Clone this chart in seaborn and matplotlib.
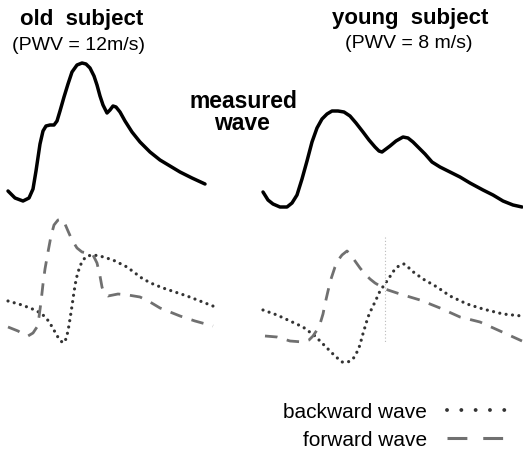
import matplotlib
matplotlib.use("Agg")
import matplotlib.pyplot as plt
from matplotlib.lines import Line2D
import seaborn as sns

# values (time in px units, amplitude = height above the bottom edge)
H = 452

old_meas_t = [8, 15, 23, 29, 33, 36, 40, 43, 46, 50, 54, 57, 60, 64, 68, 72, 77, 82, 86, 90,
              94, 97, 100, 103, 107, 110, 113, 116, 120, 125, 132, 140, 150, 160, 170, 180, 192, 205]
old_meas_p = [192, 199, 202, 199, 190, 172, 145, 132, 127, 126, 126, 122, 112, 98, 85, 73, 66, 64, 65, 69,
              77, 86, 97, 106, 114, 111, 107, 108, 113, 122, 133, 143, 153, 161, 167, 173, 179, 185]

young_meas_t = [263, 268, 273, 280, 287, 292, 297, 302, 307, 312, 317, 322, 327, 332, 338, 344, 350, 356,
                363, 369, 375, 379, 382, 386, 390, 396, 403, 408, 413, 418, 425, 432, 440, 450, 460, 470,
                483, 493, 503, 513, 522]
young_meas_p = [193, 201, 205, 208, 208, 204, 196, 180, 162, 143, 129, 120, 115, 112, 112, 113, 117, 124,
                133, 141, 148, 152, 153, 150, 147, 142, 138, 139, 143, 148, 155, 163, 168, 173, 178, 184,
                191, 196, 202, 206, 208]

old_back_t = [8, 22, 35, 42, 47, 51, 55, 59, 63, 66, 68, 70, 72, 74, 76, 78, 81, 84, 87, 93, 100,
              113, 127, 135, 143, 153, 163, 175, 187, 200, 218]
old_back_p = [302, 306, 311, 315, 320, 326, 333, 340, 344, 340, 332, 320, 307, 293, 281, 273, 265, 260,
              257, 256, 257, 261, 268, 274, 280, 285, 289, 293, 297, 302, 309]

old_fwd_t = [8, 13, 18, 23, 28, 33, 37, 39, 41, 43, 45, 48, 51, 54, 58, 62, 65, 68, 72, 77, 82, 88,
             93, 97, 100, 102, 104, 108, 113, 118, 128, 140, 150, 160, 170, 180, 195, 213]
old_fwd_p = [328, 330, 332, 335, 337, 334, 328, 318, 303, 285, 270, 253, 237, 226, 221, 220, 225, 232,
             241, 249, 253, 254, 256, 264, 277, 288, 294, 297, 296, 295, 296, 298, 303, 309, 313, 317,
             322, 327]

young_back_t = [263, 277, 290, 303, 315, 325, 335, 342, 348, 353, 357, 360, 362, 365, 368, 372, 375,
                380, 387, 395, 400, 404, 408, 412, 423, 437, 450, 467, 483, 503, 522]
young_back_p = [311, 316, 322, 328, 337, 347, 357, 363, 363, 360, 353, 346, 338, 328, 318, 309, 303,
                292, 282, 270, 266, 265, 268, 272, 280, 288, 297, 305, 310, 315, 317]

young_fwd_t = [265, 277, 290, 303, 309, 313, 317, 320, 323, 325, 328, 331, 335, 339, 342, 347, 351,
               355, 360, 365, 370, 375, 385, 400, 420, 440, 460, 480, 500, 522]
young_fwd_p = [337, 338, 342, 343, 341, 337, 331, 325, 315, 305, 292, 280, 268, 260, 256, 252, 256,
               262, 269, 275, 280, 284, 290, 295, 301, 309, 318, 323, 332, 342]

sns.set_theme(style="white")
plt.rcParams['font.family'] = ['Liberation Sans', 'DejaVu Sans']
plt.rcParams['text.color'] = 'black'

fig = plt.figure(figsize=(5.23, 4.52), dpi=100)
ax = fig.add_axes([0, 0, 1, 1])

meas_kw = dict(color="black", linewidth=2.5, sort=False, estimator=None, ax=ax)
back_kw = dict(color="#333333", linewidth=2.3, sort=False, estimator=None, ax=ax,
               dashes=(0.01, 2.0), dash_capstyle="round")
fwd_kw = dict(color="#707070", linewidth=2.0, sort=False, estimator=None, ax=ax,
              dashes=(4.5, 3.5), dash_capstyle="butt")

sns.lineplot(x=old_meas_t, y=[H - v for v in old_meas_p], **meas_kw)
sns.lineplot(x=young_meas_t, y=[H - v for v in young_meas_p], **meas_kw)
sns.lineplot(x=old_back_t, y=[H - v for v in old_back_p], **back_kw)
sns.lineplot(x=young_back_t, y=[H - v for v in young_back_p], **back_kw)
sns.lineplot(x=old_fwd_t, y=[H - v for v in old_fwd_p], **fwd_kw)
sns.lineplot(x=young_fwd_t, y=[H - v for v in young_fwd_p], **fwd_kw)

# faint vertical marker on the young panel
ax.plot([385, 385], [H - 238, H - 343], color="#bbbbbb", linewidth=0.8, linestyle=(0, (1, 2)))

ax.set_xlim(0, 523)
ax.set_ylim(0, H)
ax.axis("off")

ax.text(82, H - 25, "old  subject", ha="center", va="baseline", fontsize=16, fontweight="bold")
ax.text(78, H - 45, "(PWV = 12m/s)", ha="center", va="center", fontsize=14)
ax.text(410, H - 24, "young  subject", ha="center", va="baseline", fontsize=16, fontweight="bold")
ax.text(409, H - 43, "(PWV = 8 m/s)", ha="center", va="center", fontsize=14)
ax.text(243, H - 108, "measured", ha="center", va="baseline", fontsize=16.5, fontweight="bold")
ax.text(242, H - 130, "wave", ha="center", va="baseline", fontsize=16.5, fontweight="bold")

handles = [
    Line2D([], [], color="#333333", linewidth=2.8, linestyle=(0, (0.01, 3.67)), dash_capstyle="round"),
    Line2D([], [], color="#707070", linewidth=2.2, linestyle=(0, (6.5, 5.2))),
]
leg = ax.legend(handles, ["backward wave", "forward wave"], loc="lower right",
                bbox_to_anchor=(0.968, 0.004), frameon=False, markerfirst=False, borderpad=0,
                borderaxespad=0, fontsize=15, handlelength=2.85, handletextpad=0.95,
                labelspacing=0.42)
for t in leg.get_texts():
    t.set_ha("right")
    t.set_color("black")

fig.savefig("out.png", dpi=100)
